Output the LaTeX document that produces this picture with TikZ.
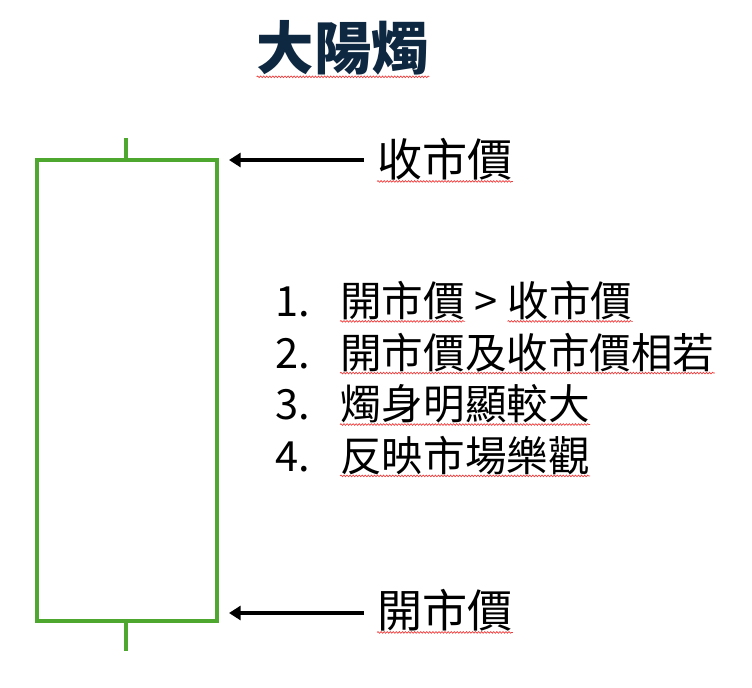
\documentclass[tikz,border=0pt]{standalone}
\usepackage{fontspec}
\setmainfont{Noto Sans CJK TC}
\usetikzlibrary{arrows.meta,positioning,decorations.pathmorphing}
\definecolor{TitleNavy}{RGB}{14,40,65}
\definecolor{CandleGreen}{RGB}{78,167,46}
\definecolor{SpellRed}{RGB}{240,60,60}

\begin{document}
\begin{tikzpicture}[x=0.03cm,y=-0.03cm,
    ttl/.style={font=\bfseries\fontsize{49}{59}\selectfont,text=TitleNavy,inner sep=0pt},
    lbl/.style={font=\fontsize{38.5}{46}\selectfont,inner sep=0pt},
    item/.style={font=\fontsize{35.5}{42}\selectfont,inner sep=0pt,anchor=base west},
    body/.style={draw=CandleGreen,line width=3.4pt},
    arr/.style={-{Triangle[length=10pt,width=12pt]},line width=3.4pt},
    squig/.style={draw=SpellRed,line width=0.6pt,decorate,
                  decoration={snake,amplitude=0.7pt,segment length=2.6pt}}
  ]
  \useasboundingbox (0,0) rectangle (752,687);
  % title
  \node[ttl] (title) at (343,48) {大陽燭};
  % candle
  \coordinate (wickTop) at (126,138);
  \coordinate (wickBot) at (126,651);
  \coordinate (bodyNW) at (37,160);
  \coordinate (bodySE) at (217,621);
  \draw[body] (bodyNW) rectangle (bodySE);
  \draw[body] (wickTop) -- (126,160);
  \draw[body] (126,621) -- (wickBot);
  % price labels
  \node[lbl] (close) at (445,159) {收市價};
  \node[lbl] (open)  at (445,610) {開市價};
  \coordinate (closeTip) at (229,160);
  \coordinate (openTip)  at (229,613);
  \draw[arr] ([xshift=-11pt]close.west|-closeTip) -- (closeTip);
  \draw[arr] ([xshift=-11pt]open.west|-openTip) -- (openTip);
  % points
  \foreach \n [count=\i] in {1,2,3,4}
    \node[item] (num\i) at (275,{316.5+51.5*(\i-1)}) {\n.};
  \node[item] (t1) at (340,316.5) {開市價};
  \node[item] (t1b) at (t1.base east) {\kern8pt>\kern8pt};
  \node[item] (t1c) at (t1b.base east) {收市價};
  \node[item] (t2) at (340,368) {開市價及收市價相若};
  \node[item] (t3) at (340,419.5) {燭身明顯較大};
  \node[item] (t4) at (340,471) {反映市場樂觀};
  % spelling marks
  \foreach \t in {title,close,open,t1,t1c,t2,t3,t4}
    \draw[squig] ([yshift=-1pt]\t.south west) -- ([yshift=-1pt]\t.south east);
\end{tikzpicture}
\end{document}
